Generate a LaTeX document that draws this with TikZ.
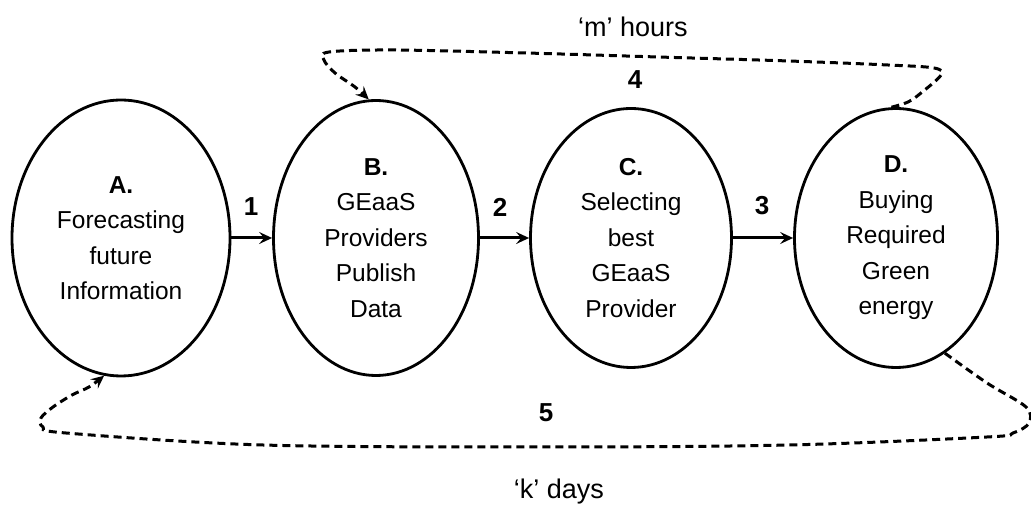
\documentclass[tikz,border=0pt]{standalone}
\usepackage{fontspec}
\setmainfont{Liberation Sans}
\usetikzlibrary{arrows.meta,shapes.geometric}
\begin{document}
\begin{tikzpicture}[x=1pt,y=1pt,
  stage/.style={ellipse, draw, line width=2.8pt, inner sep=0pt, align=center,
    font=\fontsize{24.5}{35.5}\selectfont},
  tip/.style={-{Stealth[length=13pt,width=12pt,inset=5pt]}},
  flow/.style={tip, line width=3pt},
  cycle/.style={tip, line width=3pt, dash pattern=on 8pt off 5pt},
  num/.style={font=\fontsize{26}{26}\selectfont\bfseries},
  note/.style={font=\fontsize{27}{27}\selectfont}]
\useasboundingbox (0,0) rectangle (1031,508);

% the four stages
\node[stage, minimum width=218pt, minimum height=276pt] (A) at (121,270)
  {\textbf{A.}\\Forecasting\\future\\Information};
\node[stage, minimum width=205pt, minimum height=275pt] (B) at (376,270)
  {\textbf{B.}\\GEaaS\\Providers\\Publish\\Data};
\node[stage, minimum width=201pt, minimum height=259pt] (C) at (631,270)
  {\textbf{C.}\\Selecting\\best\\GEaaS\\Provider};
\node[stage, minimum width=203pt, minimum height=259pt] (D) at (896,270)
  {\textbf{D.}\\Buying\\Required\\Green\\energy};

% forward steps
\draw[flow] (A.east) -- (B.west);
\draw[flow] (B.east) -- (C.west);
\draw[flow] (C.east) -- (D.west);
\node[num] (n1) at (251,301) {1};
\node[num] (n2) at (500,301) {2};
\node[num] (n3) at (762,302) {3};

% short loop: back to publishing every few hours
\draw[cycle] plot[smooth, tension=0.55] coordinates {(D.92) (908,406) (921,415) (941,433)
  (934,440) (888,443) (789,447) (658,451) (526,455) (395,458) (329,456) (324,448)
  (335,435) (355,421) (B.93)};
\node[num] (n4) at (635,428) {4};
\node[note] (m) at (633,481) {‘m’ hours};

% long loop: back to forecasting every few days
\draw[cycle] plot[smooth, tension=0.55] coordinates {(D.-67) (987,125) (1026,101)
  (1029,85) (1013,75) (987,71) (789,63) (546,61) (263,63) (66,75) (43,81) (41,90)
  (53,101) (72,113) (89,121) (A.-97)};
\node[num] (n5) at (546,95) {5};
\node[note] (k) at (559,16) {‘k’ days};
\end{tikzpicture}
\end{document}
